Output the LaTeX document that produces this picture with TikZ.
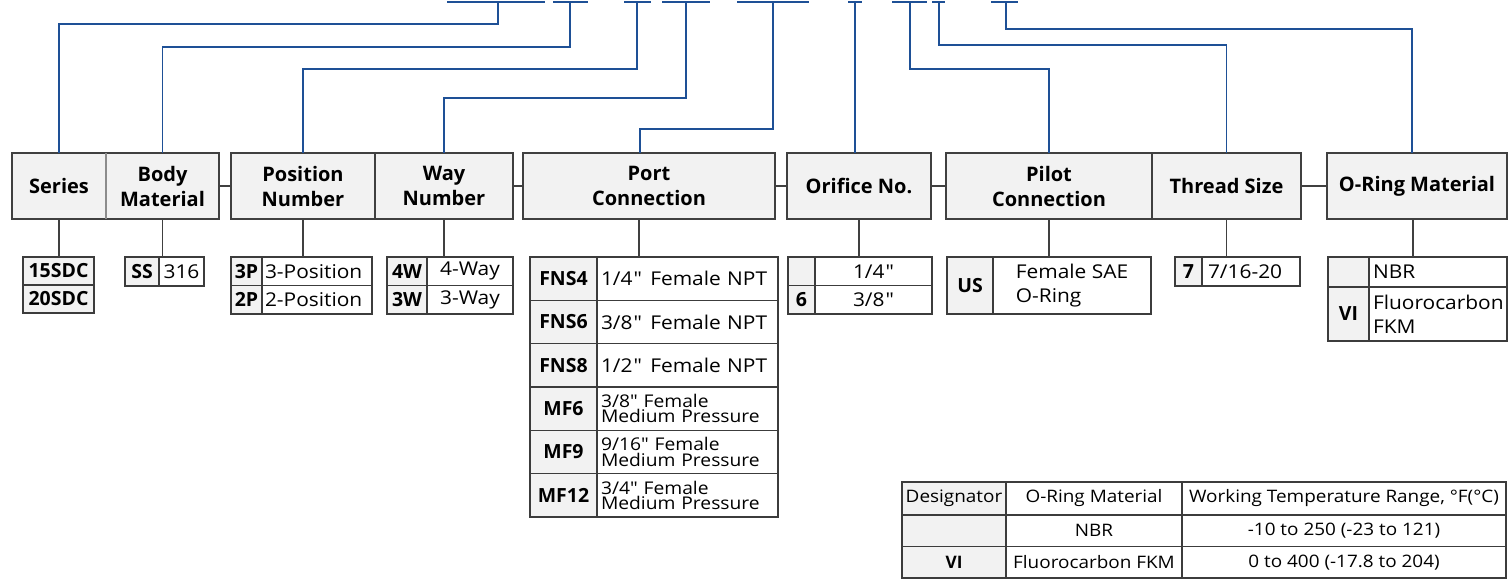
\documentclass[tikz,border=0pt]{standalone}
\usepackage{fontspec}
\setmainfont{Open Sans}
\newfontfamily\rf{Open Sans}[FakeStretch=1.1]
\definecolor{bluec}{HTML}{1E5096}
\definecolor{hdrc}{HTML}{404040}
\definecolor{gfill}{HTML}{F2F2F2}
\definecolor{divc}{HTML}{8C8C8C}
\definecolor{tabc}{HTML}{3C3C3C}
\newcommand\hfont{\bfseries\fontsize{20}{25}\selectfont}
\newcommand\cfont{\bfseries\fontsize{19.5}{24}\selectfont}
\newcommand\dfont{\rf\fontsize{19}{24}\selectfont}
\newcommand\mfont{\rf\fontsize{17.5}{15.5}\selectfont}
\newcommand\bfontr{\rf\fontsize{17.2}{20}\selectfont}
\newcommand\bfontb{\bfseries\fontsize{17.2}{20}\selectfont}
% code cell
\newcommand\cc[6]{\node[code, minimum width=#4, minimum height=#5] (#1) at (#2,#3) {#6};}
% centred description cell
\newcommand\cd[6]{\node[desc, minimum width=#4, minimum height=#5] (#1) at (#2,#3) {#6};}
% left aligned description cell
\newcommand\dl[7]{\pgfmathsetmacro\tw{#4-2*#6}\node[desc, align=left, inner xsep=#6, text width=\tw pt, minimum width=#4, minimum height=#5] (#1) at (#2,#3) {#7};}
% left aligned two-line small description cell
\newcommand\dm[7]{\pgfmathsetmacro\tw{#4-2*#6}\node[desc, font=\mfont, align=left, inner xsep=#6, text width=\tw pt, minimum width=#4, minimum height=#5] (#1) at (#2,#3) {#7};}
\begin{document}
\begin{tikzpicture}[x=1pt,y=-1pt,
  hdr/.style={draw=hdrc, line width=1.3pt, fill=gfill, inner sep=0pt, outer sep=0pt, anchor=north west, minimum height=66, align=center, font=\hfont},
  code/.style={draw=tabc, line width=1.2pt, fill=gfill, inner sep=0pt, outer sep=0pt, anchor=north west, font=\cfont},
  desc/.style={draw=tabc, line width=1.2pt, fill=white, inner sep=0pt, outer sep=0pt, anchor=north west, font=\dfont},
  divl/.style={draw=divc, line width=1.3pt},
  gl/.style={draw=hdrc, line width=1.2pt},
  bl/.style={draw=bluec, line width=1.8pt},
  seg/.style={draw=bluec, line width=2.6pt}]
\useasboundingbox (0,0) rectangle (1508,581);

% ---- header boxes
\node[hdr, minimum width=94] (series) at (12,153) {Series};
\node[hdr, minimum width=113] (body) at (106,153) {Body\\Material};
\node[hdr, minimum width=144] (posn) at (231,153) {Position\\Number};
\node[hdr, minimum width=138] (way) at (375,153) {Way\\Number};
\node[hdr, minimum width=252] (port) at (523,153) {Port\\Connection};
\node[hdr, minimum width=144] (orif) at (787,153) {Orifice No.};
\node[hdr, minimum width=206] (pilot) at (946,153) {Pilot\\Connection};
\node[hdr, minimum width=149] (thread) at (1152,153) {Thread Size};
\node[hdr, minimum width=180] (oring) at (1327,153) {O-Ring Material};
\draw[divl] (series.north east) -- (series.south east);

% ---- links between header groups
\draw[gl] (body.east) -- (posn.west);
\draw[gl] (way.east) -- (port.west);
\draw[gl] (port.east) -- (orif.west);
\draw[gl] (orif.east) -- (pilot.west);
\draw[gl] (thread.east) -- (oring.west);

% ---- option tables
\cc{s1}{23}{257}{71}{28}{15SDC}
\cc{s2}{23}{285}{71}{28}{20SDC}
\cc{b1}{125}{257}{34}{29}{SS}
\cd{b1d}{159}{257}{45}{29}{316}
\cc{p1}{231}{257}{31}{28.5}{3P}
\dl{p1d}{262}{257}{110}{28.5}{3}{3-Position}
\cc{p2}{231}{285.5}{31}{28.5}{2P}
\dl{p2d}{262}{285.5}{110}{28.5}{3}{2-Position}
\cc{w1}{387}{257}{40}{28.5}{4W}
\cd{w1d}{427}{257}{86}{28.5}{4-Way}
\cc{w2}{387}{285.5}{40}{28.5}{3W}
\cd{w2d}{427}{285.5}{86}{28.5}{3-Way}

\cc{f1}{530}{257}{67}{43.33}{FNS4}
\dl{f1d}{597}{257}{181}{43.33}{4}{1/4\kern1pt"\kern2pt{} Female NPT}
\cc{f2}{530}{300.33}{67}{43.33}{FNS6}
\dl{f2d}{597}{300.33}{181}{43.33}{4}{3/8\kern1pt"\kern2pt{} Female NPT}
\cc{f3}{530}{343.67}{67}{43.33}{FNS8}
\dl{f3d}{597}{343.67}{181}{43.33}{4}{1/2\kern1pt"\kern2pt{} Female NPT}
\cc{f4}{530}{387}{67}{43.33}{MF6}
\dm{f4d}{597}{387}{181}{43.33}{4}{3/8" Female\\Medium Pressure}
\cc{f5}{530}{430.33}{67}{43.33}{MF9}
\dm{f5d}{597}{430.33}{181}{43.33}{4}{9/16" Female\\Medium Pressure}
\cc{f6}{530}{473.67}{67}{43.33}{MF12}
\dm{f6d}{597}{473.67}{181}{43.33}{4}{3/4" Female\\Medium Pressure}

\cc{o1}{788}{257}{27}{28.5}{}
\cd{o1d}{815}{257}{117}{28.5}{1/4\kern1pt"}
\cc{o2}{788}{285.5}{27}{28.5}{6}
\cd{o2d}{815}{285.5}{117}{28.5}{3/8\kern1pt"}

\cc{u1}{947}{257}{46}{57}{US}
\node[desc, align=left, minimum width=158, minimum height=57] (u1d) at (993,257) {Female SAE\\O-Ring};

\cc{t1c}{1175}{257}{27}{29}{7}
\dl{t1d}{1202}{257}{98}{29}{6}{7/16-20}

\cc{r1}{1328}{257}{41}{30}{}
\dl{r1d}{1369}{257}{138}{30}{4}{NBR}
\cc{r2}{1328}{287}{41}{54}{VI}
\dl{r2d}{1369}{287}{138}{54}{4}{Fluorocarbon\\FKM}

% ---- header to table links
\draw[gl] (series.south) -- (series.south |- s1.north);
\draw[gl] (body.south) -- (body.south |- b1.north);
\draw[gl] (posn.south) -- (posn.south |- p1.north);
\draw[gl] (way.south) -- (way.south |- w1.north);
\coordinate (portx) at ([xshift=-10pt]port.south);
\draw[gl] (portx) -- (portx |- f1.north);
\draw[gl] (orif.south) -- (orif.south |- o1.north);
\draw[gl] (pilot.south) -- (pilot.south |- u1.north);
\draw[gl] (thread.south) -- (thread.south |- t1c.north);
\coordinate (oringx) at ([xshift=-4pt]oring.south);
\draw[gl] (oringx) -- (oringx |- r1.north);

% ---- model code segments and blue leaders
\draw[seg] (447,2) -- (545,2);
\draw[seg] (553,2) -- (588,2);
\draw[seg] (624,2) -- (651,2);
\draw[seg] (662,2) -- (710,2);
\draw[seg] (737,2) -- (809,2);
\draw[seg] (848,2) -- (862,2);
\draw[seg] (892,2) -- (927,2);
\draw[seg] (932,2) -- (945,2);
\draw[seg] (991,2) -- (1018,2);
\coordinate (k1) at (498,2);
\coordinate (k2) at (570,2);
\coordinate (k3) at (637,2);
\coordinate (k4) at (686,2);
\coordinate (k5) at (773,2);
\coordinate (k6) at (855,2);
\coordinate (k7) at (910,2);
\coordinate (k8) at (939,2);
\coordinate (k9) at (1006,2);
\coordinate (portin) at ([xshift=-9pt]port.north);
\coordinate (oringin) at ([xshift=-5pt]oring.north);
\draw[bl] (k1) -- (k1 |- 0,24) -| (series.north);
\draw[bl] (k2) -- (k2 |- 0,47) -| (body.north);
\draw[bl] (k3) -- (k3 |- 0,69) -| (posn.north);
\draw[bl] (k4) -- (k4 |- 0,98) -| (way.north);
\draw[bl] (k5) -- (k5 |- 0,129) -| (portin);
\draw[bl] (k6) -- (k6 |- orif.north);
\draw[bl] (k7) -- (k7 |- 0,69) -| (pilot.north);
\draw[bl] (k8) -- (k8 |- 0,45) -| (thread.north);
\draw[bl] (k9) -- (k9 |- 0,29) -| (oringin);

% ---- temperature table
\node[code, font=\bfontr, minimum width=104, minimum height=33] (g1) at (902,482) {Designator};
\node[desc, font=\bfontr, minimum width=176, minimum height=33] (g2) at (1006,482) {O-Ring Material};
\node[desc, font=\bfontr, minimum width=324, minimum height=33] (g3) at (1182,482) {Working Temperature Range, °F(°C)};
\node[code, font=\bfontb, minimum width=104, minimum height=31.5] (h1) at (902,515) {};
\node[desc, font=\bfontr, minimum width=176, minimum height=31.5] (h2) at (1006,515) {NBR};
\node[desc, font=\bfontr, minimum width=324, minimum height=31.5] (h3) at (1182,515) {-10 to 250 (-23 to 121)};
\node[code, font=\bfontb, minimum width=104, minimum height=31.5] (i1) at (902,546.5) {VI};
\node[desc, font=\bfontr, minimum width=176, minimum height=31.5] (i2) at (1006,546.5) {Fluorocarbon FKM};
\node[desc, font=\bfontr, minimum width=324, minimum height=31.5] (i3) at (1182,546.5) {0 to 400 (-17.8 to 204)};
\end{tikzpicture}
\end{document}
